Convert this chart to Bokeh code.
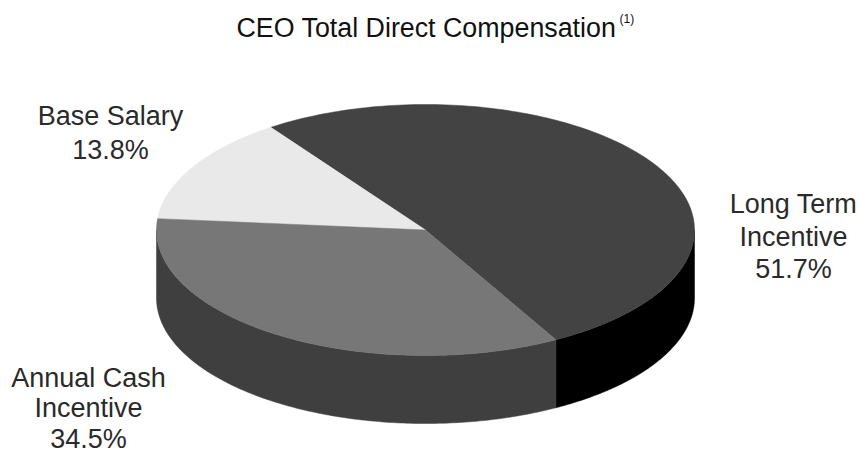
import numpy as np
from bokeh.plotting import figure
from bokeh.embed import file_html
from bokeh.resources import INLINE
from bokeh.core.properties import value

# Share of CEO total direct compensation, percent
categories = ["Long Term Incentive", "Base Salary", "Annual Cash Incentive"]
shares = [51.7, 13.8, 34.5]
top_colors = ["#434343", "#e9e9e9", "#777777"]
side_colors = ["#000000", "#e9e9e9", "#3f3f3f"]

label_lines = [["Long Term", "Incentive", "51.7%"], ["Base Salary", "13.8%"], ["Annual Cash", "Incentive", "34.5%"]]
label_centers = [793, 110, 88]
label_first_baselines = [213.5, 125, 387]
label_steps = [32.5, 34, 30.5]

WIDTH, HEIGHT = 858, 454
CX, CY, RX, RY, DEPTH = 425, 229.5, 269, 125.5, 68
START_DEG = -61.0  # the long-term slice begins here and runs anticlockwise
TEXT_SHIFT = -10   # the text glyph sits this far below the requested baseline

p = figure(width=WIDTH, height=HEIGHT, x_range=(0, WIDTH), y_range=(HEIGHT, 0),
           output_backend="svg", toolbar_location=None, min_border=0,
           x_axis_location=None, y_axis_location=None, outline_line_color=None,
           background_fill_color="white", border_fill_color="white")
p.grid.visible = False

# Slice boundaries in the ellipse's own parametric angle
edges = START_DEG + np.concatenate([[0], np.cumsum(shares)]) * 3.6
spans = list(zip(edges[:-1], edges[1:]))


def arc(a, b, n=160):
    t = np.radians(np.linspace(a, b, n))
    return CX + RX * np.cos(t), CY - RY * np.sin(t)


# Rim of the disc: only the part facing the viewer (180 to 360 degrees) shows
for (a, b), color in zip(spans, side_colors):
    for lo, hi in ((a, b), (a - 360, b - 360), (a + 360, b + 360)):
        lo2, hi2 = max(lo, 180), min(hi, 360)
        if hi2 > lo2:
            x, y = arc(lo2, hi2)
            p.patch(np.r_[x, x[::-1]], np.r_[y, y[::-1] + DEPTH],
                    fill_color=color, line_color=color, line_width=0.5)

# Top face of the disc
for (a, b), color in zip(spans, top_colors):
    x, y = arc(a, b)
    p.patch(np.r_[CX, x], np.r_[CY, y], fill_color=color, line_color=color, line_width=0.5)

# Slice labels
font = value("Liberation Sans")
for lines, cx, base, step in zip(label_lines, label_centers, label_first_baselines, label_steps):
    for i, line in enumerate(lines):
        p.text([cx], [base + i * step + TEXT_SHIFT], text=[line], text_font=font, text_font_size="27px",
               text_align="center", text_baseline="alphabetic", text_color="#2a2a2a")

# Title with its footnote marker
p.text([236], [37 + TEXT_SHIFT], text=["CEO Total Direct Compensation"], text_font=font, text_font_size="26.8px",
       text_align="left", text_baseline="alphabetic", text_color="#111111")
p.text([619], [28 + TEXT_SHIFT], text=["(1)"], text_font=font, text_font_size="12px",
       text_align="left", text_baseline="alphabetic", text_color="#111111")

open("out.html", "w").write(file_html(p, INLINE))
